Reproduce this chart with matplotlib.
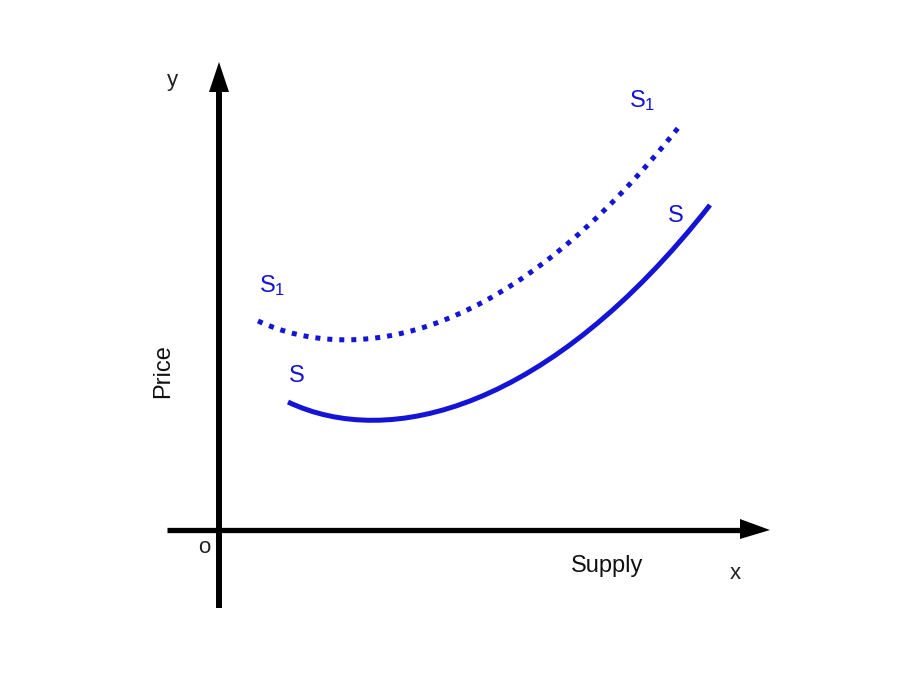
import matplotlib
matplotlib.use("Agg")
import matplotlib.pyplot as plt
from matplotlib.path import Path
from matplotlib.patches import PathPatch

plt.rcParams['font.family'] = ['Liberation Sans', 'DejaVu Sans']
plt.rcParams['mathtext.fontset'] = 'custom'
plt.rcParams['mathtext.rm'] = 'Liberation Sans'
plt.rcParams['mathtext.it'] = 'Liberation Sans'

# Supply curve S: cubic Bezier control points (quantity, price)
s_qty = [69, 170, 330, 491]
s_price = [128, 80, 120, 325]

# Shifted supply curve S1: cubic Bezier control points (quantity, price)
s1_qty = [39, 139, 293, 463]
s1_price = [209, 163, 191, 407]

BLUE = '#1414d6'


def bezier(xs, ys):
    codes = [Path.MOVETO, Path.CURVE4, Path.CURVE4, Path.CURVE4]
    return Path(list(zip(xs, ys)), codes)


fig = plt.figure(figsize=(9.07, 6.8), dpi=100)
ax = fig.add_axes([0, 0, 1, 1])
ax.set_xlim(-219, 688)
ax.set_ylim(-150, 530)
ax.axis('off')

# axes with arrows
ax.plot([0, 0], [-78, 440], color='black', lw=4.3, solid_capstyle='butt')
ax.fill([-10, 0, 10], [438, 468, 438], color='black', lw=0)
ax.plot([-52, 523], [0, 0], color='black', lw=3.8, solid_capstyle='butt')
ax.fill([521, 551, 521], [11, 0, -9], color='black', lw=0)

# curves
ax.add_patch(PathPatch(bezier(s_qty, s_price), facecolor='none',
                       edgecolor=BLUE, lw=3.6, capstyle='butt'))
ax.add_patch(PathPatch(bezier(s1_qty, s1_price), facecolor='none',
                       edgecolor=BLUE, lw=3.6, linestyle=(0, (1, 1.4)),
                       capstyle='butt'))

# labels
ax.text(-47, 444, 'y', fontsize=16, ha='center', va='baseline', color='#222222')
ax.text(-15, -23, 'o', fontsize=16, ha='center', va='baseline', color='#222222')
ax.text(388, -42, 'Supply', fontsize=17, ha='center', va='baseline', color='#111111')
ax.text(516, -49, 'x', fontsize=16, ha='center', va='baseline', color='#222222')
ax.text(-50, 159, 'Price', fontsize=17, ha='center', va='baseline', rotation=90,
        rotation_mode='anchor', color='#111111')

ax.text(40, 238, r'$\mathregular{S_1}$', fontsize=17, ha='left', va='baseline', color=BLUE)
ax.text(410, 423, r'$\mathregular{S_1}$', fontsize=17, ha='left', va='baseline', color=BLUE)
ax.text(78, 148, 'S', fontsize=17, ha='center', va='baseline', color=BLUE)
ax.text(457, 308, 'S', fontsize=17, ha='center', va='baseline', color=BLUE)

fig.savefig('out.png', dpi=100)
